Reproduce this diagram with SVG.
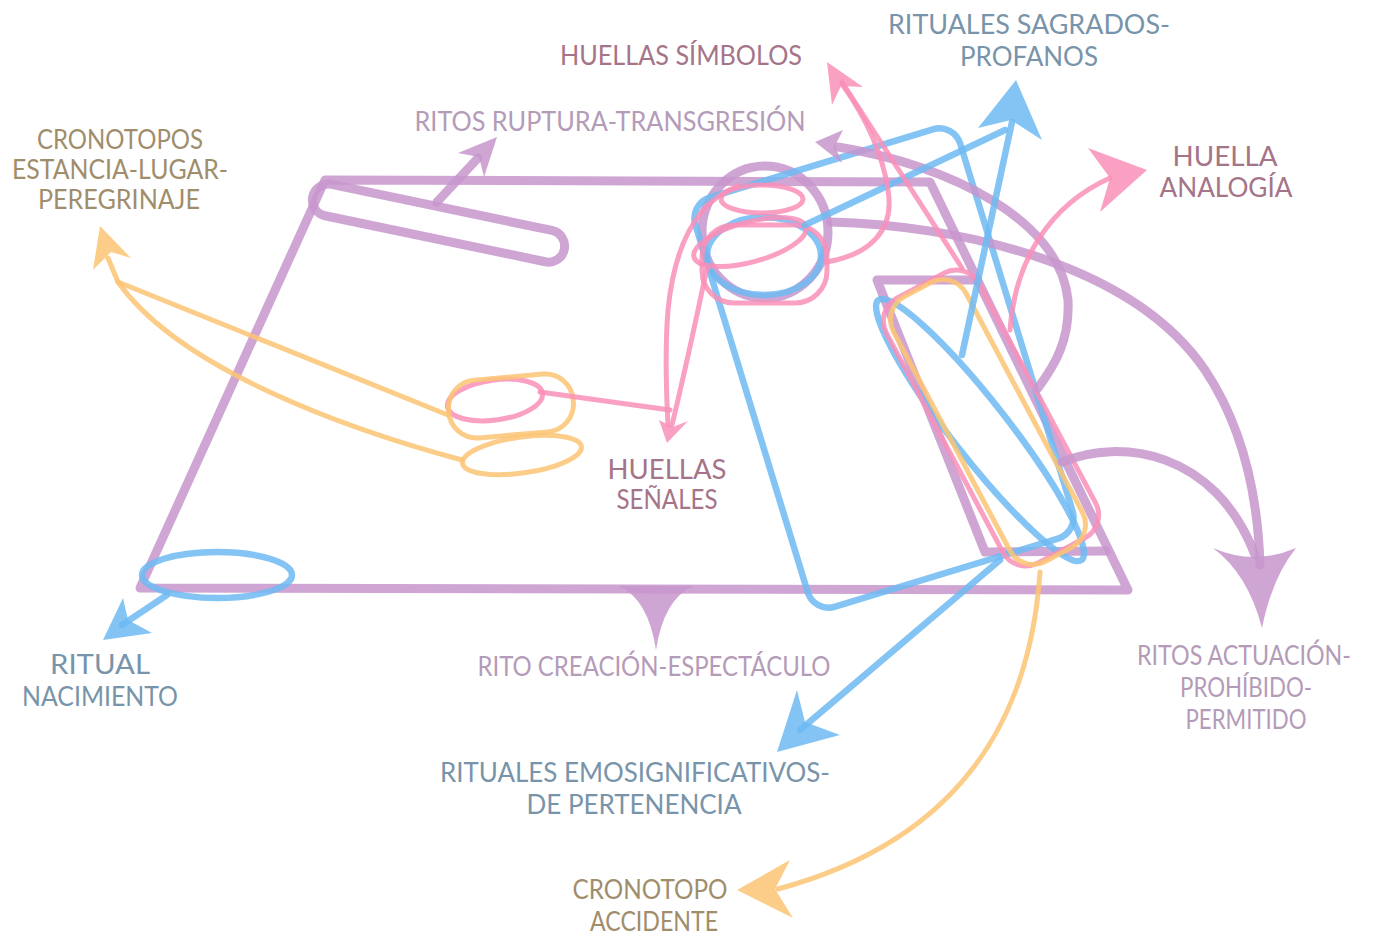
<svg xmlns="http://www.w3.org/2000/svg" width="1374" height="940" viewBox="0 0 1374 940">
<style>
.p{fill:none;stroke:#c795cd;stroke-opacity:0.85;stroke-width:9;stroke-linecap:round;stroke-linejoin:round}
.b{fill:none;stroke:#6dbaf2;stroke-opacity:0.85;stroke-width:6.5;stroke-linecap:round;stroke-linejoin:round}
.k{fill:none;stroke:#f98fb8;stroke-opacity:0.85;stroke-width:5;stroke-linecap:round;stroke-linejoin:round}
.o{fill:none;stroke:#fbc473;stroke-opacity:0.85;stroke-width:5;stroke-linecap:round;stroke-linejoin:round}
.pf{fill:#c795cd;fill-opacity:0.85}
.bf{fill:#6dbaf2;fill-opacity:0.85}
.kf{fill:#f98fb8;fill-opacity:0.85}
.of{fill:#fbc473;fill-opacity:0.85}
text{font-family:Lato,"Liberation Sans",sans-serif;font-size:26px;text-anchor:middle}
.tp{fill:#b49bb8}
.tb{fill:#7894aa}
.tk{fill:#a57488}
.to{fill:#9f8d6c}
</style>
<g id="shapes">
<polygon class="p" points="325,180 930,182 1128,590 140,588"/>
<polyline class="p" points="977,280 877,280 985,552 1106,551"/>
<rect class="p" x="310" y="207" width="257" height="32" rx="16" transform="rotate(11.8 438 223)"/>
<ellipse class="p" cx="765" cy="232" rx="63" ry="66"/>
<path class="pf" d="M618,586 Q648,598 656,650 Q664,598 694,586 Z"/>
<rect class="b" x="745.5" y="154" width="277" height="428" rx="22" transform="rotate(-17 884 368)"/>
<ellipse class="b" cx="764" cy="256" rx="57" ry="39"/>
<ellipse class="b" cx="980" cy="430" rx="165" ry="28" transform="rotate(52 980 430)"/>
<ellipse class="b" cx="217" cy="575" rx="75" ry="23"/>
<ellipse class="k" cx="762" cy="199" rx="41" ry="14"/>
<ellipse class="k" cx="750" cy="242" rx="58" ry="20" transform="rotate(-15 750 242)"/>
<rect class="k" x="702" y="225" width="125" height="78" rx="32"/>
<rect class="k" x="938.5" y="268" width="105" height="300" rx="26" transform="rotate(-28 991 418)"/>
<rect class="o" x="947" y="272" width="82" height="300" rx="26" transform="rotate(-28 988 422)"/>
<ellipse class="k" cx="495" cy="400" rx="48" ry="20" transform="rotate(-8 495 400)"/>
<rect class="o" x="448.5" y="377" width="125" height="58" rx="28" transform="rotate(-5 511 406)"/>
<ellipse class="o" cx="522" cy="455" rx="60" ry="18" transform="rotate(-8 522 455)"/>
</g>
<g id="connectors">
<path class="p" d="M437,202 L478,158"/>
<path class="pf" d="M497,137 L484,177 L479,157 L458,153 Z"/>
<path class="p" d="M838,147 C950,165 1060,220 1068,300 C1070,340 1055,365 1038,388"/>
<path class="pf" d="M815,142 L843,130 L835,146 L842,163 Z"/>
<path class="p" d="M830,222 C950,225 1130,260 1205,370 C1245,430 1258,500 1260,565"/>
<path class="p" d="M1062,462 C1120,438 1215,450 1255,555"/>
<path class="pf" d="M1213,548 Q1248,574 1262,628 Q1272,578 1296,548 Q1254,566 1213,548 Z"/>
<path class="b" d="M805,225 L1005,130"/>
<path class="b" d="M962,355 L1012,122"/>
<path class="bf" d="M1016,80 L1042,140 L1011,120 L978,128 Z"/>
<path class="b" d="M1000,560 L800,730"/>
<path class="bf" d="M777,752 L797,690 L805,722 L840,735 Z"/>
<path class="b" d="M167,595 L122,625"/>
<path class="bf" d="M103,640 L123,598 L128,620 L152,633 Z"/>
<path class="k" d="M826,262 C870,255 895,230 888,190 C882,150 862,112 842,84"/>
<path class="k" d="M962,268 L842,82"/>
<path class="kf" d="M827,62 L863,87 L841,86 L832,105 Z"/>
<path class="k" d="M540,392 L670,410"/>
<path class="k" d="M738,186 C700,200 675,240 668,310 C664,360 667,400 668,425"/>
<path class="k" d="M707,268 C700,300 690,350 672,425"/>
<path class="kf" d="M667,443 L659,420 L673,427 L688,421 Z"/>
<path class="k" d="M1010,330 C1015,260 1050,205 1110,178"/>
<path class="kf" d="M1147,170 L1088,148 L1110,178 L1100,212 Z"/>
<path class="o" d="M448,415 L118,282 L108,258"/>
<path class="o" d="M462,460 C350,430 180,370 118,282"/>
<path class="of" d="M100,226 L131,258 L111,252 L93,270 Z"/>
<path class="o" d="M1040,572 C1030,720 960,840 778,889"/>
<path class="of" d="M737,890 L790,860 L775,889 L793,918 Z"/>
</g>
<g id="labels">
<text id="huellas-simbolos" class="tk" x="681" y="65" textLength="242" lengthAdjust="spacingAndGlyphs">HUELLAS SÍMBOLOS</text>
<g id="rituales-sagrados">
<text class="tb" x="1029" y="34" textLength="282" lengthAdjust="spacingAndGlyphs">RITUALES SAGRADOS-</text>
<text class="tb" x="1029" y="66" textLength="138" lengthAdjust="spacingAndGlyphs">PROFANOS</text>
</g>
<text id="ritos-ruptura" class="tp" x="610" y="131" textLength="391" lengthAdjust="spacingAndGlyphs">RITOS RUPTURA-TRANSGRESIÓN</text>
<g id="cronotopos-estancia">
<text class="to" x="120" y="149" textLength="166" lengthAdjust="spacingAndGlyphs">CRONOTOPOS</text>
<text class="to" x="120" y="179" textLength="216" lengthAdjust="spacingAndGlyphs">ESTANCIA-LUGAR-</text>
<text class="to" x="119" y="209" textLength="162" lengthAdjust="spacingAndGlyphs">PEREGRINAJE</text>
</g>
<g id="huella-analogia">
<text class="tk" x="1225" y="166" textLength="105" lengthAdjust="spacingAndGlyphs">HUELLA</text>
<text class="tk" x="1226" y="197" textLength="133" lengthAdjust="spacingAndGlyphs">ANALOGÍA</text>
</g>
<g id="huellas-senales">
<text class="tk" x="667" y="479" textLength="119" lengthAdjust="spacingAndGlyphs">HUELLAS</text>
<text class="tk" x="667" y="509" textLength="101" lengthAdjust="spacingAndGlyphs">SEÑALES</text>
</g>
<g id="ritual-nacimiento">
<text class="tb" x="100" y="674" textLength="100" lengthAdjust="spacingAndGlyphs">RITUAL</text>
<text class="tb" x="100" y="706" textLength="156" lengthAdjust="spacingAndGlyphs">NACIMIENTO</text>
</g>
<text id="rito-creacion" class="tp" x="654" y="676" textLength="353" lengthAdjust="spacingAndGlyphs">RITO CREACIÓN-ESPECTÁCULO</text>
<g id="ritos-actuacion">
<text class="tp" x="1244" y="665" textLength="214" lengthAdjust="spacingAndGlyphs">RITOS ACTUACIÓN-</text>
<text class="tp" x="1246" y="697" textLength="132" lengthAdjust="spacingAndGlyphs">PROHÍBIDO-</text>
<text class="tp" x="1246" y="729" textLength="121" lengthAdjust="spacingAndGlyphs">PERMITIDO</text>
</g>
<g id="rituales-emosignificativos">
<text class="tb" x="635" y="782" textLength="390" lengthAdjust="spacingAndGlyphs">RITUALES EMOSIGNIFICATIVOS-</text>
<text class="tb" x="634" y="814" textLength="215" lengthAdjust="spacingAndGlyphs">DE PERTENENCIA</text>
</g>
<g id="cronotopo-accidente">
<text class="to" x="650" y="899" textLength="155" lengthAdjust="spacingAndGlyphs">CRONOTOPO</text>
<text class="to" x="654" y="931" textLength="128" lengthAdjust="spacingAndGlyphs">ACCIDENTE</text>
</g>
</g>
</svg>
